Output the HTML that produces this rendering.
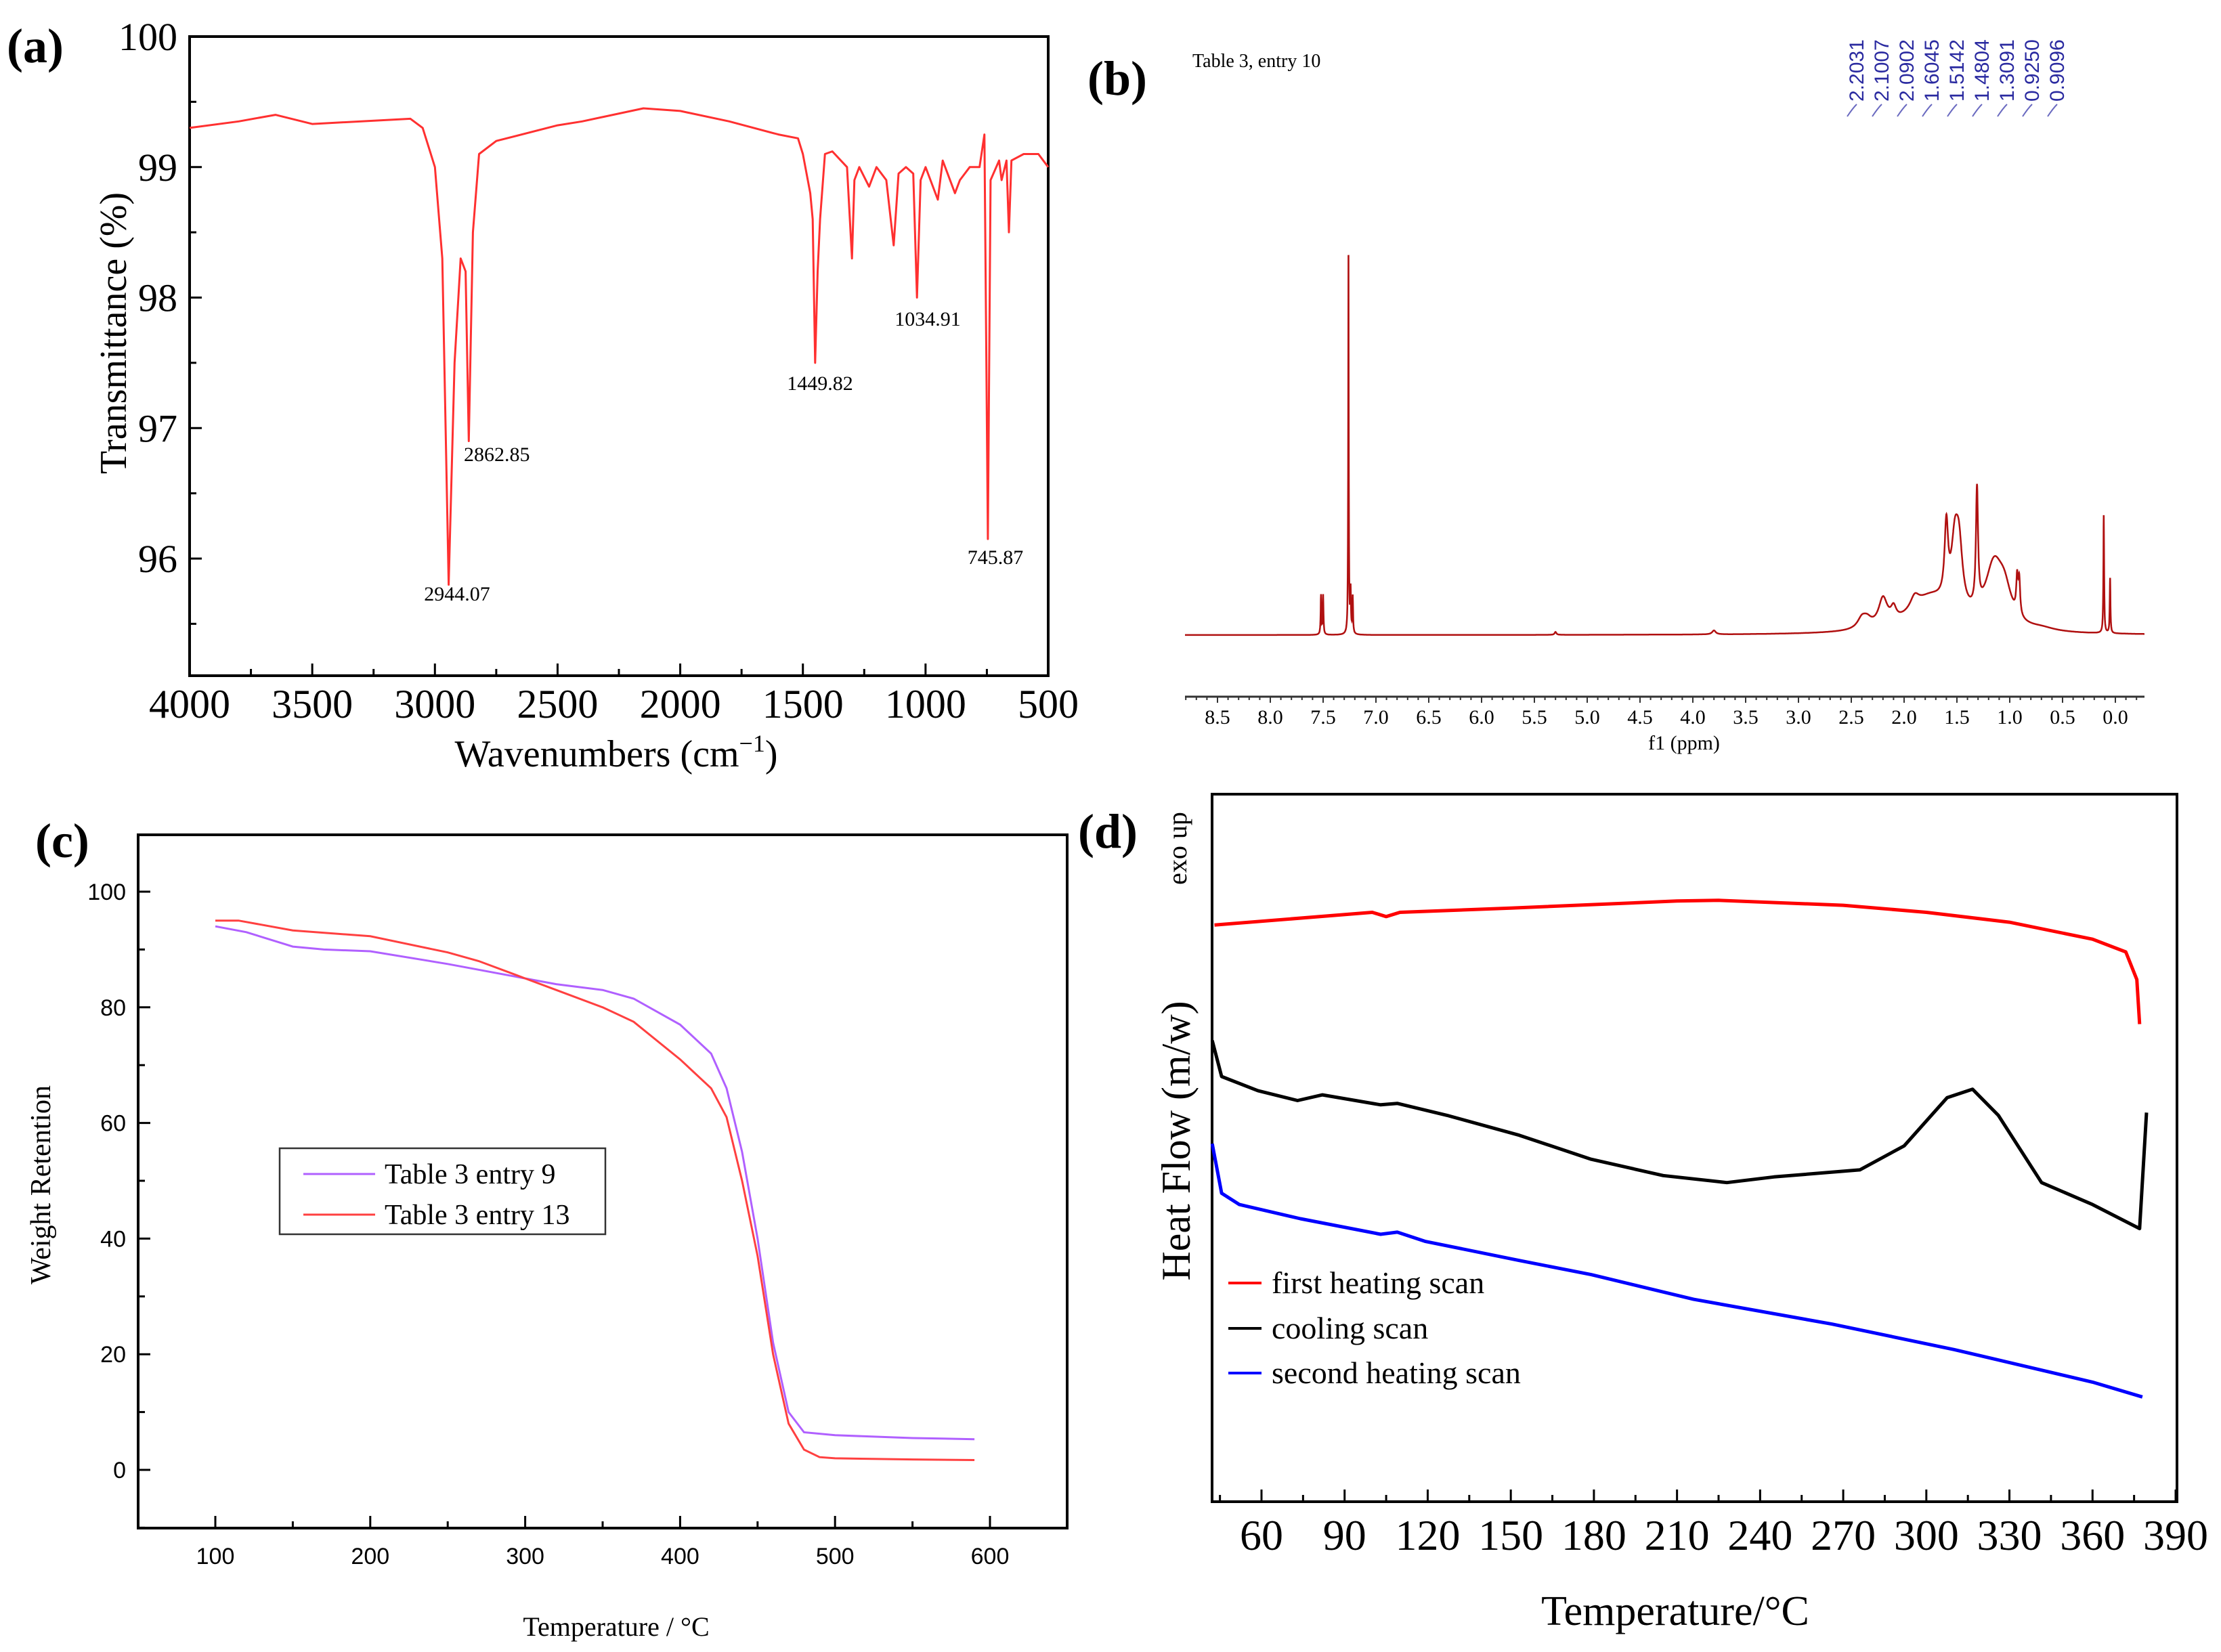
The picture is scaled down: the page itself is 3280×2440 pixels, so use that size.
<!DOCTYPE html>
<html><head><meta charset="utf-8"><style>
html,body{margin:0;padding:0;background:#fff;overflow:hidden}
svg{display:block}
.serif{font-family:"Liberation Serif",serif}
.sans{font-family:"Liberation Sans",sans-serif}
</style></head><body>
<svg id="fig" width="3280" height="2440" viewBox="0 0 3280 2440" xmlns="http://www.w3.org/2000/svg">
<rect width="3280" height="2440" fill="#fff"/>
<text class="serif" x="10" y="92" font-size="72" font-weight="bold">(a)</text>
<text class="serif" x="1606" y="140" font-size="72" font-weight="bold">(b)</text>
<text class="serif" x="52" y="1266" font-size="72" font-weight="bold">(c)</text>
<text class="serif" x="1592" y="1252" font-size="72" font-weight="bold">(d)</text>

<g id="pa"></g>
<g id="pb"></g>
<g id="pc"></g>
<g id="pd"></g>
</svg>
<script>
// ---------- Panel (a) IR data ----------
const irWave = [4000,3800,3650,3500,3100,3050,3000,2970,2944,2920,2895,2875,2862,2845,2820,2750,2500,2400,2150,2000,1800,1600,1520,1500,1470,1460,1450,1440,1430,1410,1380,1320,1300,1290,1270,1230,1200,1160,1130,1110,1080,1050,1035,1020,1000,950,930,880,860,820,780,760,746,735,700,690,670,660,650,600,540,500];
const irT = [99.3,99.35,99.4,99.33,99.37,99.3,99.0,98.3,95.8,97.5,98.3,98.2,96.9,98.5,99.1,99.2,99.32,99.35,99.45,99.43,99.35,99.25,99.22,99.1,98.8,98.6,97.5,98.2,98.6,99.1,99.12,99.0,98.3,98.9,99.0,98.85,99.0,98.9,98.4,98.95,99.0,98.95,98.0,98.9,99.0,98.75,99.05,98.8,98.9,99.0,99.0,99.25,96.15,98.9,99.05,98.9,99.05,98.5,99.05,99.1,99.1,99.0];
const irXTicks = [4000,3500,3000,2500,2000,1500,1000,500];
const irYTicks = [96,97,98,99,100];
const irPeakLabels = ["2944.07","2862.85","1449.82","1034.91","745.87"];

// ---------- Panel (b) NMR data ----------
const nmrPeakPpm = [7.52,7.50,7.26,7.24,7.22,5.3,3.8,2.4,2.35,2.2,2.1,1.9,1.75,1.6,1.52,1.48,1.31,1.15,1.05,0.93,0.91,0.7,0.11,0.05];
const nmrPeakH =   [80,80,770,85,75,6,8,20,15,55,25,25,70,150,120,120,240,120,60,70,70,6,240,112];
const nmrPeakW =   [0.004,0.004,0.003,0.004,0.004,0.01,0.02,0.05,0.05,0.05,0.03,0.05,0.25,0.02,0.04,0.04,0.012,0.1,0.08,0.01,0.01,0.15,0.004,0.004];
const nmrXTicks = [8.5,8.0,7.5,7.0,6.5,6.0,5.5,5.0,4.5,4.0,3.5,3.0,2.5,2.0,1.5,1.0,0.5,0.0];
const nmrShiftLabels = ["2.2031","2.1007","2.0902","1.6045","1.5142","1.4804","1.3091","0.9250","0.9096"];

// ---------- Panel (c) TGA data ----------
const tgaT9 = [100,120,150,170,200,250,300,320,350,370,400,420,430,440,450,460,470,480,500,550,590];
const tgaW9 = [94,93,90.5,90,89.7,87.5,85,84,83,81.5,77,72,66,55,40,22,10,6.5,6,5.5,5.3];
const tgaT13 = [100,115,150,200,250,270,300,320,350,370,400,420,430,440,450,460,470,480,490,500,550,590];
const tgaW13 = [95,95,93.3,92.3,89.5,88,85,83,80,77.5,71,66,61,50,37,20,8,3.5,2.2,2,1.8,1.7];
const tgaXTicks = [100,200,300,400,500,600];
const tgaYTicks = [0,20,40,60,80,100];

// ---------- Panel (d) DSC data ----------
const dscTRed = [43,100,105,110,150,210,225,270,300,330,360,372,376,377];
const dscVRed = [81.5,83.3,82.7,83.3,83.9,84.9,85,84.3,83.3,81.9,79.5,77.7,73.8,67.5];
const dscTBlack = [42.2,45.6,58.7,73,82,103,109,127,153,179,205,228,245,276,292,307.5,316.7,326,341.6,360,377,379.5];
const dscVBlack = [65.2,60.1,58.1,56.7,57.5,56.1,56.3,54.6,51.8,48.4,46.1,45.1,45.9,46.9,50.3,57.1,58.3,54.6,45.1,42,38.6,55];
const dscTBlue = [42.2,45.6,52,74,103,109,119,153,179,216,266,310,360,378];
const dscVBlue = [50.6,43.6,42,40,37.8,38.1,36.8,34.1,32.1,28.6,25.1,21.5,16.9,14.8];
const dscXTicks = [60,90,120,150,180,210,240,270,300,330,360,390];
const dscLegend = ["first heating scan","cooling scan","second heating scan"];

const NS='http://www.w3.org/2000/svg';
function mk(parent,tag,attrs){const e=document.createElementNS(NS,tag);for(const k in attrs)e.setAttribute(k,attrs[k]);parent.appendChild(e);return e;}
function lin(d0,d1,r0,r1){return v=>r0+(v-d0)*(r1-r0)/(d1-d0);}
function pathFrom(xs,ys,sx,sy){return xs.map((x,i)=>(i?'L':'M')+sx(x).toFixed(1)+','+sy(ys[i]).toFixed(1)).join(' ');}

// ===== Panel A =====
(function(){
const g=document.getElementById('pa');
const L=280,R=1548,T=54,B=998;
const sx=lin(4000,500,L,R), sy=lin(100,96,54,825);
const box=mk(g,'rect',{x:L,y:T,width:R-L,height:B-T,fill:'none',stroke:'#000','stroke-width':4});


for(let v=4000;v>=500;v-=250){const x=sx(v);const major=irXTicks.includes(v);
 const t=mk(g,'line',{x1:x,x2:x,y1:B,y2:B-(major?18:10),stroke:'#000','stroke-width':3});
 
 }
irXTicks.forEach(v=>{const t=mk(g,'text',{x:sx(v),y:1060,'font-size':60,'text-anchor':'middle',class:'serif'});t.textContent=v;
 
 });
for(let v=95.5;v<=100;v+=0.5){const y=sy(v);if(y>B)continue;const major=Number.isInteger(v);
 const t=mk(g,'line',{x1:L,x2:L+(major?18:10),y1:y,y2:y,stroke:'#000','stroke-width':3});
 
 }
irYTicks.forEach(v=>{const t=mk(g,'text',{x:262,y:sy(v)+20,'font-size':58,'text-anchor':'end',class:'serif'});t.textContent=v;
 
 });
const xt=mk(g,'text',{x:910,y:1132,'font-size':56,'text-anchor':'middle',class:'serif'});
xt.innerHTML='Wavenumbers (cm<tspan dy="-22" font-size="36">−1</tspan><tspan dy="22">)</tspan>';


const yt=mk(g,'text',{x:0,y:0,'font-size':56,'text-anchor':'middle',class:'serif',transform:'translate(186,492) rotate(-90)'});
yt.textContent='Transmittance (%)';


const p=mk(g,'path',{d:pathFrom(irWave,irT,sx,sy),fill:'none',stroke:'#ff3030','stroke-width':3,'stroke-linejoin':'round'});


const pos=[[675,887,'middle'],[685,681,'start'],[1211,576,'middle'],[1370,481,'middle'],[1470,833,'middle']];
irPeakLabels.forEach((s,i)=>{const t=mk(g,'text',{x:pos[i][0],y:pos[i][1],'font-size':30,'text-anchor':pos[i][2],class:'serif'});t.textContent=s;
 
 });
})();

// ===== Panel B =====
(function(){
const g=document.getElementById('pb');
const L=1750,R=3167,base=938,AX=1029,hs=0.725;
const sx=lin(8.5,0,1798,3124);
const ppmL=8.5+(1798-L)/156, ppmR=-(R-3124)/156;
let pts=[];
for(let i=0;i<=5000;i++)pts.push(ppmL+(ppmR-ppmL)*i/5000);
nmrPeakPpm.forEach(p=>pts.push(p));
pts.sort((a,b)=>b-a);
let d='';
pts.forEach((ppm,i)=>{let h=0;
 for(let k=0;k<nmrPeakPpm.length;k++){const w=nmrPeakW[k];const dx=ppm-nmrPeakPpm[k];h+=nmrPeakH[k]*w*w/(dx*dx+w*w);}
 d+=(i?'L':'M')+sx(ppm).toFixed(1)+','+(base-h*hs).toFixed(1)+' ';});
const p=mk(g,'path',{d:d,fill:'none',stroke:'#b01010','stroke-width':2.5});


const ax=mk(g,'line',{x1:L,x2:R,y1:AX,y2:AX,stroke:'#333','stroke-width':3});


for(let v=-0.2;v<=8.8;v+=0.1){const x=sx(v);if(x<L||x>R)continue;const major=Math.abs(v*2-Math.round(v*2))<1e-6;
 const t=mk(g,'line',{x1:x,x2:x,y1:AX,y2:AX+(major?9:5),stroke:'#333','stroke-width':2});
 
 }
nmrXTicks.forEach(v=>{const t=mk(g,'text',{x:sx(v),y:1069,'font-size':30,'text-anchor':'middle',class:'serif'});t.textContent=v.toFixed(1);
 
 });
const xt=mk(g,'text',{x:2487,y:1107,'font-size':30,'text-anchor':'middle',class:'serif'});xt.textContent='f1 (ppm)';


const ti=mk(g,'text',{x:1761,y:99,'font-size':28,class:'serif'});ti.textContent='Table 3, entry 10';


nmrShiftLabels.forEach((s,i)=>{const x=2752+i*37;
 const t=mk(g,'text',{x:0,y:0,'font-size':30,fill:'#2a2aa0',class:'sans',transform:`translate(${x},150) rotate(-90)`});t.textContent=s;
 
 
 const l=mk(g,'path',{d:`M${x-10},154 q-6,6 -14,18`,fill:'none',stroke:'#6a6ac0','stroke-width':2});
 
 });
})();

// ===== Panel C =====
(function(){
const g=document.getElementById('pc');
const L=204,R=1576,T=1233,B=2257;
const sx=lin(100,600,318,1462), sy=lin(0,100,2171,1317);
const box=mk(g,'rect',{x:L,y:T,width:R-L,height:B-T,fill:'none',stroke:'#000','stroke-width':4});


for(let v=100;v<=600;v+=50){const x=sx(v);
 const t=mk(g,'line',{x1:x,x2:x,y1:B,y2:B-(v%100?10:18),stroke:'#000','stroke-width':3});
 
 }
tgaXTicks.forEach(v=>{const t=mk(g,'text',{x:sx(v),y:2310,'font-size':34,'text-anchor':'middle',class:'sans'});t.textContent=v;
 
 });
for(let v=-10;v<=110;v+=10){const y=sy(v);if(y<T||y>B)continue;
 const t=mk(g,'line',{x1:L,x2:L+(v%20?10:18),y1:y,y2:y,stroke:'#000','stroke-width':3});
 
 }
tgaYTicks.forEach(v=>{const t=mk(g,'text',{x:186,y:sy(v)+12,'font-size':34,'text-anchor':'end',class:'sans'});t.textContent=v;
 
 });
const xt=mk(g,'text',{x:910,y:2416,'font-size':40,'text-anchor':'middle',class:'serif'});xt.textContent='Temperature / °C';


const yt=mk(g,'text',{x:0,y:0,'font-size':42,'text-anchor':'middle',class:'serif',transform:'translate(74,1750) rotate(-90)'});yt.textContent='Weight Retention';


const p1=mk(g,'path',{d:pathFrom(tgaT9,tgaW9,sx,sy),fill:'none',stroke:'#b060ff','stroke-width':3});


const p2=mk(g,'path',{d:pathFrom(tgaT13,tgaW13,sx,sy),fill:'none',stroke:'#ff4040','stroke-width':3});


const lg=mk(g,'rect',{x:413,y:1696,width:481,height:127,fill:'#fff',stroke:'#333','stroke-width':2.5});


[['Table 3 entry 9','#b060ff',1734],['Table 3 entry 13','#ff4040',1794]].forEach(r=>{
 const l=mk(g,'line',{x1:448,x2:554,y1:r[2],y2:r[2],stroke:r[1],'stroke-width':3});
 
 
 const t=mk(g,'text',{x:568,y:r[2]+14,'font-size':42,class:'serif'});t.textContent=r[0];
 
 });
})();

// ===== Panel D =====
(function(){
const g=document.getElementById('pd');
const L=1790,R=3215,T=1173,B=2218;
const sx=lin(60,390,1863,3213), sy=lin(0,100,B,T);
const box=mk(g,'rect',{x:L,y:T,width:R-L,height:B-T,fill:'none',stroke:'#000','stroke-width':4});


for(let v=45;v<=390;v+=15){const x=sx(v);if(x<L)continue;
 const t=mk(g,'line',{x1:x,x2:x,y1:B,y2:B-(v%30?10:18),stroke:'#000','stroke-width':3});
 
 }
dscXTicks.forEach(v=>{const t=mk(g,'text',{x:sx(v),y:2289,'font-size':64,'text-anchor':'middle',class:'serif'});t.textContent=v;
 
 });
const xt=mk(g,'text',{x:2474,y:2400,'font-size':62,'text-anchor':'middle',class:'serif'});xt.textContent='Temperature/°C';


const yt=mk(g,'text',{x:0,y:0,'font-size':60,'text-anchor':'middle',class:'serif',transform:'translate(1757,1685) rotate(-90)'});yt.textContent='Heat Flow (m/w)';


const ex=mk(g,'text',{x:0,y:0,'font-size':40,'text-anchor':'middle',class:'serif',transform:'translate(1752,1253) rotate(-90)'});ex.textContent='exo up';


const series=[[dscTRed,dscVRed,'#ff0000','dsc-first-heating-line'],[dscTBlack,dscVBlack,'#000000','dsc-cooling-line'],[dscTBlue,dscVBlue,'#0000ff','dsc-second-heating-line']];
series.forEach(s=>{const p=mk(g,'path',{d:pathFrom(s[0],s[1],sx,sy),fill:'none',stroke:s[2],'stroke-width':5,'stroke-linejoin':'round'});
 
 });
const ys=[1895,1962,2028];
dscLegend.forEach((s,i)=>{
 const l=mk(g,'line',{x1:1814,x2:1863,y1:ys[i],y2:ys[i],stroke:series[i][2],'stroke-width':4});
 
 
 const t=mk(g,'text',{x:1878,y:ys[i]+15,'font-size':46,class:'serif'});t.textContent=s;
 
 });
})();
</script>
</body></html>
